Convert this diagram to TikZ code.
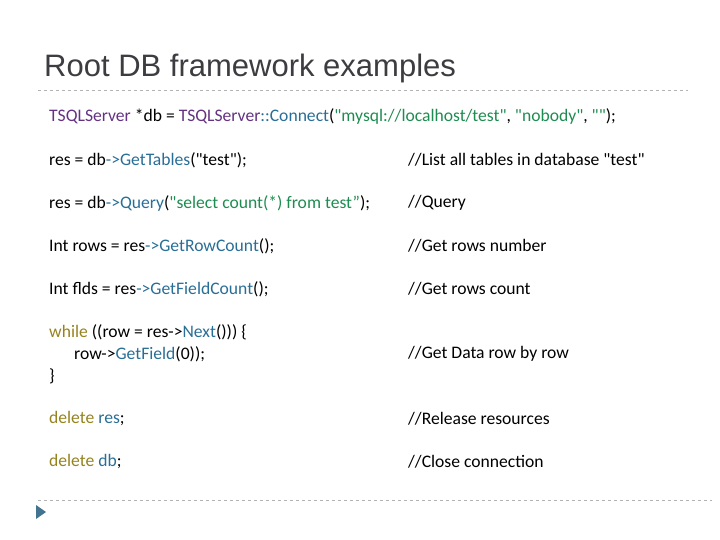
\documentclass[tikz,border=0pt]{standalone}
\usepackage{fontspec}
\newfontfamily\codefont{Carlito}
\newfontfamily\titlefont{Liberation Sans}
\definecolor{kw}{RGB}{150,130,30}
\definecolor{fn}{RGB}{40,110,150}
\definecolor{st}{RGB}{30,140,80}
\definecolor{cl}{RGB}{100,50,130}
\definecolor{ttl}{RGB}{60,60,65}
\begin{document}
\begin{tikzpicture}[x=1pt,y=-1pt,
  code/.style={anchor=west,inner sep=0pt,font=\codefont\fontsize{17.6}{21}\selectfont},
  sep/.style={draw=gray!60,dashed,line width=0.8pt}]
\useasboundingbox (0,0) rectangle (720,540);
\node[anchor=west,inner sep=0pt,text=ttl,font=\titlefont\fontsize{31}{36}\selectfont] (title) at (44,68) {Root DB framework examples};
\coordinate (t1) at (38,90); \coordinate (t2) at (688,90);
\draw[sep] (t1) -- (t2);
\node[code] (l1) at (49,116) {\textcolor{cl}{TSQLServer} *db = \textcolor{cl}{TSQLServer}\textcolor{fn}{::Connect}(\textcolor{st}{"mysql://localhost/test"}, \textcolor{st}{"nobody"}, \textcolor{st}{""});};
\node[code] (l2) at (49,160) {res = db\textcolor{fn}{->GetTables}("test");};
\node[code] (c2) at (408,160) {//List all tables in database "test"};
\node[code] (l3) at (49,203) {res = db\textcolor{fn}{->Query}(\textcolor{st}{"select count(*) from test”});};
\node[code] (c3) at (408,203) {//Query};
\node[code] (l4) at (49,246) {Int rows = res\textcolor{fn}{->GetRowCount}();};
\node[code] (c4) at (408,246) {//Get rows number};
\node[code] (l5) at (49,289) {Int flds = res\textcolor{fn}{->GetFieldCount}();};
\node[code] (c5) at (408,289) {//Get rows count};
\node[code] (l6a) at (49,332) {\textcolor{kw}{while} ((row = res->\textcolor{fn}{Next}())) \{};
\node[code] (l6b) at (74,354) {row->\textcolor{fn}{GetField}(0));};
\node[code] (l6c) at (49,376) {\}};
\node[code] (c6) at (408,354) {//Get Data row by row};
\node[code] (l7) at (49,419) {\textcolor{kw}{delete} \textcolor{fn}{res};};
\node[code] (c7) at (408,419) {//Release resources};
\node[code] (l8) at (49,462) {\textcolor{kw}{delete} \textcolor{fn}{db};};
\node[code] (c8) at (408,462) {//Close connection};
\coordinate (b1) at (38,500); \coordinate (b2) at (712,500);
\draw[sep] (b1) -- (b2);
\fill[fn!70!gray] (36,505) -- (46,512) -- (36,519) -- cycle;
\end{tikzpicture}
\end{document}
